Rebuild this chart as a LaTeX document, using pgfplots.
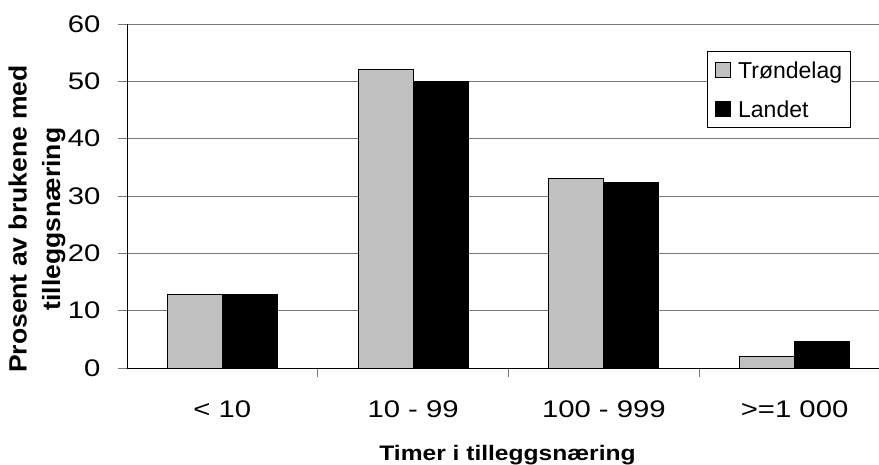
\documentclass[border=0pt]{standalone}
\usepackage{fontspec}
\setmainfont{Liberation Sans}
\newfontfamily\tickfont[FakeStretch=1.22]{Liberation Sans}
\newfontfamily\xlabfont[FakeStretch=1.17]{Liberation Sans Bold}
\newfontfamily\ylabfont[FakeStretch=1.06]{Liberation Sans Bold}
\usepackage{pgfplots}
\pgfplotsset{compat=1.18}
\definecolor{barg}{RGB}{192,192,192}
\definecolor{gridg}{RGB}{120,120,120}
\begin{document}
\begin{tikzpicture}
\begin{axis}[
  name=ax,
  scale only axis,
  width=763pt, height=344pt,
  xmin=-0.5, xmax=3.5,
  ymin=0, ymax=60,
  axis lines*=left,
  axis line style={black, line width=0.9pt},
  ytick={0,10,...,60},
  ymajorgrids,
  major grid style={gridg, line width=0.9pt},
  xtick={0.5,1.5,2.5,3.5},
  xticklabels={},
  extra x ticks={0,1,2,3},
  extra x tick labels={{< 10},{10 - 99},{100 - 999},{>=1 000}},
  extra x tick style={major tick length=0pt, xticklabel style={anchor=base, yshift=-49pt}},
  tick align=outside,
  major tick length=9pt,
  tick style={gridg, line width=0.9pt},
  ticklabel style={font=\fontsize{24}{28}\selectfont\tickfont},
  yticklabel style={xshift=-14pt},
  /pgf/number format/assume math mode=true,
  ylabel={\fontsize{25}{29}\selectfont\ylabfont Prosent av brukene med\\[14pt] \fontsize{25}{29}\selectfont\ylabfont tilleggsnæring},
  ylabel style={align=center, at={(-90pt,149pt)}, anchor=center, rotate=0},
  xlabel={\fontsize{21}{25}\selectfont\xlabfont Timer i tilleggsnæring},
  xlabel style={at={(380.5pt,-92pt)}, anchor=base},
  ybar, bar width=55pt,
  legend style={at={(580pt,317pt)}, anchor=north west, draw=black, line width=0.7pt, fill=white,
    font=\fontsize{23}{27}\selectfont, inner xsep=8pt, inner ysep=6pt, row sep=14pt,
    nodes={inner sep=0pt, text height=21pt, text depth=4pt},
    /tikz/every odd column/.append style={column sep=7pt}},
  legend image code/.code={\draw[#1, line width=0.8pt] (0pt,-8pt) rectangle (15pt,7pt);},
  legend cell align=left,
]
\addplot[draw=black, line width=0.9pt, fill=barg, bar shift=-27.5pt] coordinates {(0,12.9) (1,52) (2,33) (3,2.0)};
\addplot[draw=black, line width=0.9pt, fill=black, bar shift=27.5pt] coordinates {(0,12.9) (1,50) (2,32.3) (3,4.6)};
\legend{Trøndelag, Landet}
\end{axis}
\pgfresetboundingbox
\useasboundingbox ([shift={(-127pt,-96pt)}]ax.south west) rectangle ++(879pt,464pt);
\end{tikzpicture}
\end{document}
